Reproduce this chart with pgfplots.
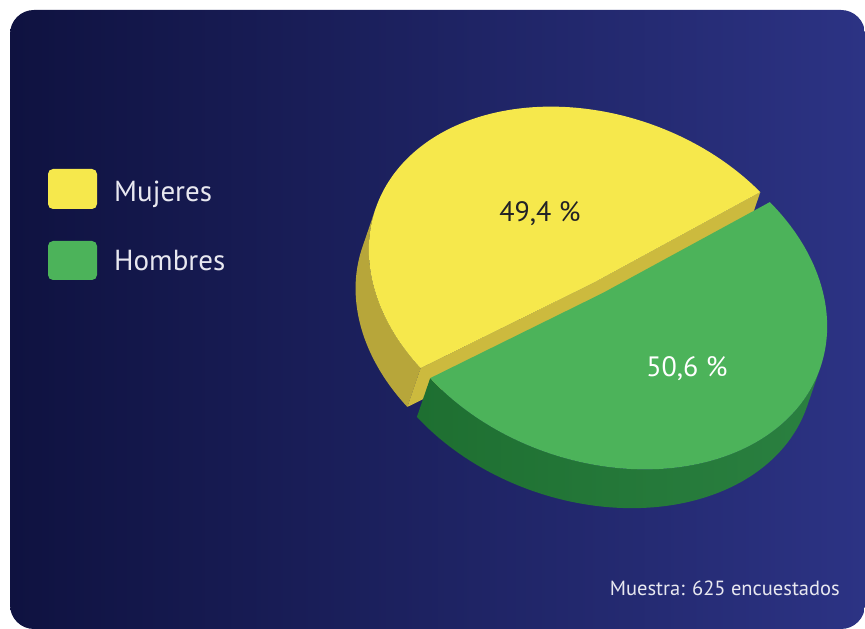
\documentclass[border=0pt]{standalone}
\usepackage{pgfplots}
\pgfplotsset{compat=1.18}
\usepackage{pgfplotstable}
\usepackage{fontspec}
\setmainfont{PT Sans}
\definecolor{bgL}{HTML}{0F1240}
\definecolor{bgR}{HTML}{2C3384}
\definecolor{ytop}{HTML}{F6E84C}
\definecolor{yside}{HTML}{B7A63A}
\definecolor{ycut}{HTML}{CCBA3E}
\definecolor{gtop}{HTML}{4CB35A}
\definecolor{gsideL}{HTML}{1E6F31}
\definecolor{gsideR}{HTML}{2A8040}
\definecolor{txt}{HTML}{E8E8F0}
\definecolor{dark}{HTML}{222226}

\pgfplotstableread{
label value
Mujeres 49.4
Hombres 50.6
}\piedata

\begin{document}
\begin{tikzpicture}[declare function={
  PX(\t)=\RA*cos(\t)*\cosp+\RB*sin(\t)*\sinp;
  PY(\t)=-\RA*cos(\t)*\sinp+\RB*sin(\t)*\cosp;
  th(\s,\a,\b)=\a+(\b-\a)*min(\s,1)-(\b-\a)*max(\s-1.05,0);
  kk(\s)=min(max((\s-1)/0.05,0),1);
}]
\pgfplotstablegetelem{0}{value}\of\piedata \pgfmathsetmacro{\vM}{\pgfplotsretval}
\pgfplotstablegetelem{1}{value}\of\piedata \pgfmathsetmacro{\vH}{\pgfplotsretval}
\def\RA{230}\def\RB{169}\def\Th{41}\def\Cx{598}\def\Cy{341}\def\Ex{7.5}
\pgfmathsetmacro{\cosp}{cos(18.9)}
\pgfmathsetmacro{\sinp}{sin(18.9)}
\pgfmathsetmacro{\tA}{56}
\pgfmathsetmacro{\tB}{\tA+3.6*\vM}
\pgfmathsetmacro{\tC}{\tB+3.6*\vH}
\pgfmathsetmacro{\DX}{-\Th*\sinp}
\pgfmathsetmacro{\DY}{-\Th*\cosp}
% yellow offset
\pgfmathsetmacro{\mY}{(\tA+\tB)/2}
\pgfmathsetmacro{\uY}{\Ex*cos(\mY)}
\pgfmathsetmacro{\wY}{\Ex*\RB/\RA*sin(\mY)}
\pgfmathsetmacro{\oxY}{\Cx+\uY*\cosp+\wY*\sinp}
\pgfmathsetmacro{\oyY}{\Cy-\uY*\sinp+\wY*\cosp}
% green offset
\pgfmathsetmacro{\mG}{(\tB+\tC)/2}
\pgfmathsetmacro{\uG}{\Ex*cos(\mG)}
\pgfmathsetmacro{\wG}{\Ex*\RB/\RA*sin(\mG)}
\pgfmathsetmacro{\oxG}{\Cx+\uG*\cosp+\wG*\sinp}
\pgfmathsetmacro{\oyG}{\Cy-\uG*\sinp+\wG*\cosp}
% yellow cut face points
\pgfmathsetmacro{\xa}{\oxY+PX(\tA)}\pgfmathsetmacro{\ya}{\oyY+PY(\tA)}
\pgfmathsetmacro{\xb}{\oxY+PX(\tB)}\pgfmathsetmacro{\yb}{\oyY+PY(\tB)}
\pgfmathsetmacro{\xab}{\xa+\DX}\pgfmathsetmacro{\yab}{\ya+\DY}
\pgfmathsetmacro{\xbb}{\xb+\DX}\pgfmathsetmacro{\ybb}{\yb+\DY}
\pgfmathsetmacro{\xcb}{\oxY+\DX}\pgfmathsetmacro{\ycb}{\oyY+\DY}
\begin{axis}[
  scale only axis, width=865pt, height=629pt,
  xmin=0, xmax=865, ymin=0, ymax=629,
  hide axis, clip=false,
]
\fill[white] (axis cs:0,0) rectangle (axis cs:865,629);
\shade[left color=bgL, right color=bgR, rounded corners=24pt] (axis cs:10,0) rectangle (axis cs:865,619);
% ---- yellow slice ----
\addplot[draw=none, fill=yside, domain=0:2.05, samples=206, variable=\s]
  ({\oxY+PX(th(\s,180,\tB))+kk(\s)*\DX},{\oyY+PY(th(\s,180,\tB))+kk(\s)*\DY}) -- cycle;
\addplot[draw=none, fill=ycut] coordinates {(\xa,\ya) (\oxY,\oyY) (\xb,\yb) (\xbb,\ybb) (\xcb,\ycb) (\xab,\yab)} -- cycle;
\addplot[draw=none, fill=ytop, domain=\tA:\tB, samples=150, variable=\t]
  ({\oxY+PX(\t)},{\oyY+PY(\t)}) -- (axis cs:\oxY,\oyY) -- cycle;
% ---- green slice ----
\addplot[draw=none, left color=gsideL, right color=gsideR, domain=0:2.05, samples=206, variable=\s]
  ({\oxG+PX(th(\s,\tB,360))+kk(\s)*\DX},{\oyG+PY(th(\s,\tB,360))+kk(\s)*\DY}) -- cycle;
\addplot[draw=none, fill=gtop, domain=\tB:\tC, samples=150, variable=\t]
  ({\oxG+PX(\t)},{\oyG+PY(\t)}) -- (axis cs:\oxG,\oyG) -- cycle;
% ---- labels ----
\node[text=dark, font=\fontsize{28}{30}\selectfont] at (axis cs:540,415) {49,4 \%};
\node[text=white, font=\fontsize{28}{30}\selectfont] at (axis cs:687,260) {50,6 \%};
% ---- legend ----
\fill[ytop, rounded corners=5pt] (axis cs:48,420) rectangle (axis cs:97,460);
\fill[gtop, rounded corners=5pt] (axis cs:48,349) rectangle (axis cs:97,388);
\node[anchor=base west, text=txt, font=\fontsize{29}{31}\selectfont, inner sep=0pt] at (axis cs:114,427) {Mujeres};
\node[anchor=base west, text=txt, font=\fontsize{29}{31}\selectfont, inner sep=0pt] at (axis cs:114,358) {Hombres};
\node[anchor=base east, text=txt, font=\fontsize{20.5}{22}\selectfont, inner sep=0pt] at (axis cs:840,33) {Muestra: 625 encuestados};
\end{axis}
\end{tikzpicture}
\end{document}
